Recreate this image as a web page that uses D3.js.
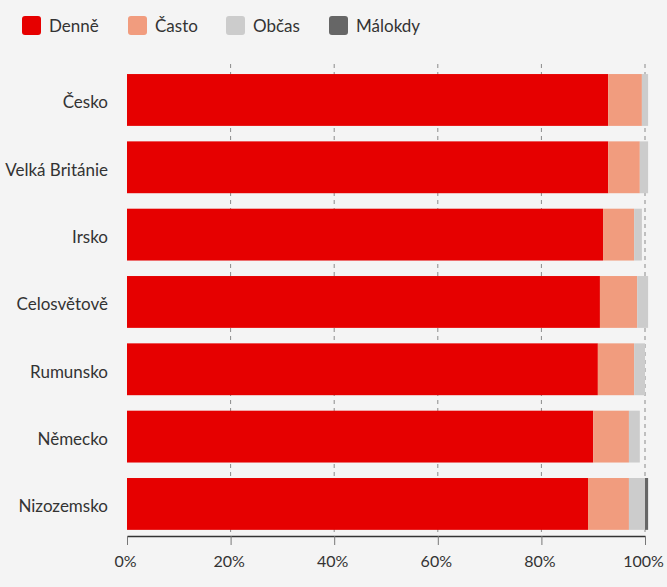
<!DOCTYPE html>
<html>
<head>
<meta charset="utf-8">
<script src="https://cdn.jsdelivr.net/npm/d3@7"></script>
<style>
    body { margin: 0; background: #f4f4f4; font-family: Lato, sans-serif; }
    .legend text, .ylab text, .xticks text { fill: #333; }
</style>
</head>
<body>
<div id="chart"></div>
<script>
// categories (top to bottom)
const countries = ["Česko", "Velká Británie", "Irsko", "Celosvětově", "Rumunsko", "Německo", "Nizozemsko"];
// series values, %
const denne   = [92.9, 92.9, 91.9, 91.3, 90.9, 90.0, 89.0];
const casto   = [6.5, 6.1, 6.0, 7.2, 7.0, 6.9, 7.9];
const obcas   = [1.2, 1.6, 1.5, 2.1, 2.1, 2.1, 3.1];
const malokdy = [0, 0, 0, 0, 0, 0, 0.6];
const seriesNames = ["Denně", "Často", "Občas", "Málokdy"];
const seriesColors = ["#e60000", "#f19c7e", "#cccccc", "#666666"];
const xTicks = [0, 20, 40, 60, 80, 100];

const W = 667, H = 587;
const mLeft = 127, mRight = 645, mTop = 66.3, mBottom = 537.6;
const axisY = 536;

const svg = d3.select("#chart").append("svg")
    .attr("width", W)
    .attr("height", H);

// legend
const leg = svg.append("g").attr("class", "legend");
const legX = [22, 128, 226, 329];
seriesNames.forEach((s, i) => {
    leg.append("rect")
        .attr("x", legX[i]).attr("y", 16)
        .attr("width", 19).attr("height", 19)
        .attr("rx", 3)
        .attr("fill", seriesColors[i]);
    leg.append("text")
        .attr("x", legX[i] + 27).attr("y", 32)
        .attr("font-size", 17)
        .text(s);
});

const x = d3.scaleLinear().domain([0, 100]).range([mLeft, mRight]);
const y = d3.scaleBand().domain(countries).range([mTop, mBottom])
    .paddingInner(0.23).paddingOuter(0.115);

// dashed grid (none at 0)
svg.append("g")
    .selectAll("line")
    .data(xTicks.filter(d => d > 0))
    .join("line")
    .attr("x1", d => x(d)).attr("x2", d => x(d))
    .attr("y1", 64).attr("y2", axisY)
    .attr("stroke", "#8a8a8a")
    .attr("stroke-width", 1)
    .attr("stroke-dasharray", "4,4");

// stacked bars
const rows = countries.map((c, i) => ({ c: c, v: [denne[i], casto[i], obcas[i], malokdy[i]] }));
const stack = d3.stack().keys([0, 1, 2, 3]).value((d, k) => d.v[k]);
const layers = stack(rows);

svg.append("g")
    .selectAll("g")
    .data(layers)
    .join("g")
    .attr("fill", (d, i) => seriesColors[i])
    .selectAll("rect")
    .data(d => d)
    .join("rect")
    .attr("x", d => x(d[0]))
    .attr("width", d => x(d[1]) - x(d[0]))
    .attr("y", d => y(d.data.c))
    .attr("height", y.bandwidth());

// category labels
svg.append("g")
    .attr("class", "ylab")
    .selectAll("text")
    .data(countries)
    .join("text")
    .attr("x", 108)
    .attr("y", d => y(d) + y.bandwidth() / 2 + 8.5)
    .attr("text-anchor", "end")
    .attr("font-size", 17)
    .text(d => d);

// x axis
const xAxis = svg.append("g")
    .attr("class", "xticks")
    .attr("transform", "translate(0," + axisY + ")")
    .call(d3.axisBottom(x).tickValues(xTicks).tickFormat(d => d + "%").tickSize(9).tickSizeOuter(0));
xAxis.select(".domain").attr("stroke", "#333").attr("stroke-width", 1.5);
xAxis.selectAll(".tick line").attr("stroke", "#777");
xAxis.selectAll("text")
    .attr("font-size", 16)
    .attr("font-family", "Lato, sans-serif")
    .attr("y", 0)
    .attr("dy", 0)
    .attr("transform", "translate(-2,31)");
</script>
</body>
</html>
